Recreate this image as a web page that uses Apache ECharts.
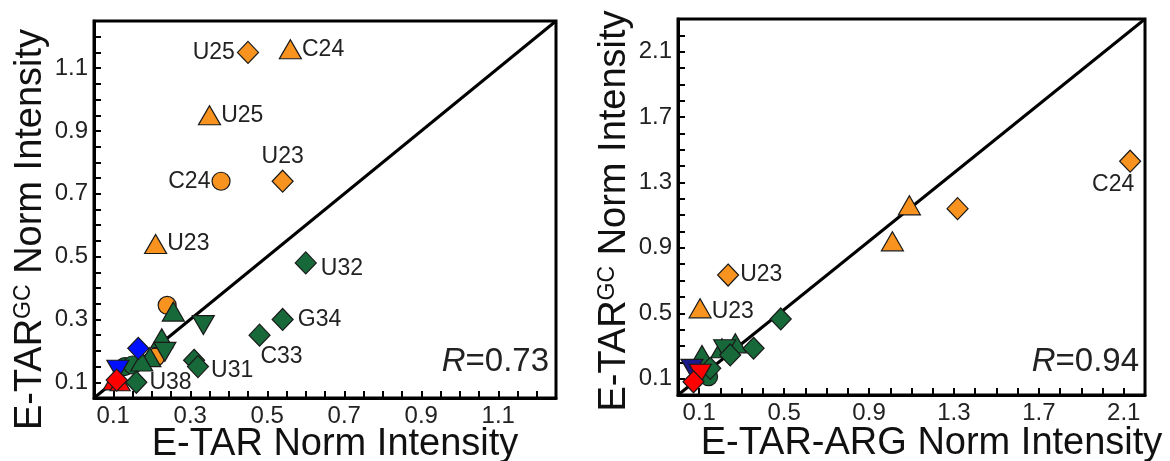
<!DOCTYPE html>
<html><head><meta charset="utf-8">
<script src="https://cdn.jsdelivr.net/npm/echarts@6/dist/echarts.min.js"></script>
<style>html,body{margin:0;padding:0;background:#fff}#c{width:1170px;height:461px}</style>
</head><body><div id="c"></div>
<script>
// ---------- Left panel: E-TAR (x) vs E-TAR^GC (y) ----------
const leftRange = [0.05, 1.25];
const leftLabelTicks = [0.1, 0.3, 0.5, 0.7, 0.9, 1.1];
const leftMinorTicks = [0.1,0.15,0.2,0.25,0.3,0.35,0.4,0.45,0.5,0.55,0.6,0.65,0.7,0.75,0.8,0.85,0.9,0.95,1.0,1.05,1.1,1.15,1.2];
const leftDiag = [[0.05, 0.05], [1.25, 1.25]];
const leftRText = '0.73';

const L_orangeDiamond = [[0.45, 1.15], [0.54, 0.74]];
const L_orangeDiamondLbl = ['U25', 'U23'];
const L_orangeTriangle = [[0.56, 1.16], [0.35, 0.95], [0.21, 0.54]];
const L_orangeTriangleLbl = ['C24', 'U25', 'U23'];
const L_orangeCircle = [[0.38, 0.74], [0.24, 0.345], [0.21, 0.18]];
const L_orangeCircleLbl = ['C24', '', ''];
const L_greenDiamond = [[0.60, 0.48], [0.54, 0.30], [0.48, 0.25], [0.31, 0.17], [0.32, 0.15], [0.16, 0.10]];
const L_greenDiamondLbl = ['U32', 'G34', 'C33', '', 'U31', 'U38'];
const L_greenTriangle = [[0.256, 0.325], [0.226, 0.24], [0.195, 0.18], [0.174, 0.166]];
const L_greenTriDown = [[0.334, 0.282], [0.234, 0.197]];
const L_greenCircle = [[0.13, 0.15], [0.15, 0.155]];
const L_blueDiamond = [[0.165, 0.208]];
const L_blueTriDown = [[0.112, 0.14]];
const L_redTriangle = [[0.1, 0.103], [0.118, 0.1]];
const L_redDiamond = [[0.109, 0.107]];

// ---------- Right panel: E-TAR-ARG (x) vs E-TAR^GC (y) ----------
const rightXRange = [0, 2.2];
const rightYRange = [0, 2.3];
const rightLabelTicks = [0.1, 0.5, 0.9, 1.3, 1.7, 2.1];
const rightMinorTicks = [0.1,0.2,0.3,0.4,0.5,0.6,0.7,0.8,0.9,1.0,1.1,1.2,1.3,1.4,1.5,1.6,1.7,1.8,1.9,2.0,2.1,2.2];
const rightDiag = [[0, 0], [2.2, 2.3]];
const rightRText = '0.94';

const R_orangeDiamond = [[2.13, 1.43], [1.317, 1.14], [0.236, 0.734]];
const R_orangeDiamondLbl = ['C24', '', 'U23'];
const R_orangeTriangle = [[1.09, 1.16], [1.01, 0.94], [0.104, 0.53]];
const R_orangeTriangleLbl = ['', '', 'U23'];
const R_greenDiamond = [[0.484, 0.465], [0.356, 0.286], [0.246, 0.245], [0.152, 0.163]];
const R_greenTriangle = [[0.27, 0.316], [0.207, 0.286], [0.113, 0.245]];
const R_greenTriDown = [[0.22, 0.28]];
const R_greenCircle = [[0.144, 0.112]];
const R_blueTriDown = [[0.066, 0.16]];
const R_redTriDown = [[0.105, 0.13]];
const R_redDiamond = [[0.073, 0.081]];

// ---------- styling ----------
const FONT = 'Liberation Sans, Arial, sans-serif';
const ORANGE = '#F7931E', GREEN = '#17693A', BLUE = '#0010FF', RED = '#FF0000';
const DIAM = [21, 22], TRI = [22, 19], CIRC = 18;
const TITLE_SIZE = 38;

// label placement per labelled point (layout, kept separate from data)
const LP = {
  L_oD: [{position: 'left', distance: 2}, {position: 'top', distance: 1}],
  L_oT: [{position: 'right', distance: 0}, {position: 'right', distance: 0}, {position: 'right', distance: 0}],
  L_oC: [{position: 'left', distance: 1}],
  L_gD: [{position: 'right', distance: 4, offset: [0, 6]}, {position: 'right', distance: 4}, {position: 'bottom', distance: 0, offset: [22, -2]}, null, {position: 'right', distance: 2, offset: [0, 4]}, {position: 'right', distance: 2}],
  R_oD: [{position: 'bottom', distance: 2, offset: [-17, -2]}, null, {position: 'right', distance: 1}],
  R_oT: [null, null, {position: 'right', distance: 0, offset: [0, 3]}]
};

function sc(grid, data, labels, symbol, color, size, rotate, layout) {
  return {
    type: 'scatter', xAxisIndex: grid, yAxisIndex: grid,
    symbol: symbol, symbolSize: size, symbolRotate: rotate || 0,
    itemStyle: {color: color, borderColor: '#1a1a1a', borderWidth: 1.2, opacity: 1},
    emphasis: {disabled: true}, silent: true, animation: false,
    label: {show: false, formatter: '{b}', fontSize: 23, color: '#222', fontFamily: FONT},
    data: data.map(function (d, i) {
      const item = {value: d, name: labels ? labels[i] : ''};
      if (labels && labels[i] && layout && layout[i]) item.label = Object.assign({show: true}, layout[i]);
      return item;
    })
  };
}

function diag(grid, data) {
  return {type: 'line', xAxisIndex: grid, yAxisIndex: grid, data: data, symbol: 'none',
    lineStyle: {color: '#000', width: 3}, silent: true, animation: false, z: 1};
}

function axis(pos, range, labelTicks, minorTicks, name, nameGap, namePad, grid) {
  return {
    type: 'value', gridIndex: grid, position: pos, min: range[0], max: range[1],
    name: name, nameLocation: 'middle', nameGap: nameGap, nameMoveOverlap: false,
    nameTextStyle: {fontSize: TITLE_SIZE, color: '#111', fontFamily: FONT, padding: namePad,
      rich: {m: {fontSize: TITLE_SIZE, color: '#111', fontFamily: FONT},
             s: {fontSize: 23, color: '#111', fontFamily: FONT, verticalAlign: 'top'}}},
    axisLine: {show: true, onZero: false, lineStyle: {color: '#000', width: 3}},
    axisTick: {show: true, inside: true, length: 7, customValues: minorTicks, lineStyle: {color: '#000', width: 2}},
    axisLabel: {show: true, customValues: labelTicks, fontSize: 24, color: '#222', fontFamily: FONT, margin: 6,
      formatter: function (v) { return v.toFixed(1); }},
    splitLine: {show: false}
  };
}

const chart = echarts.init(document.getElementById('c'), null, {renderer: 'canvas'});
chart.setOption({
  backgroundColor: '#fff',
  animation: false,
  grid: [
    {left: 94, top: 21, width: 462, height: 377, show: true, borderColor: '#000', borderWidth: 3, outerBoundsMode: 'none', containLabel: false},
    {left: 678, top: 19, width: 467, height: 376, show: true, borderColor: '#000', borderWidth: 3, outerBoundsMode: 'none', containLabel: false}
  ],
  xAxis: [
    axis('bottom', leftRange, leftLabelTicks, leftMinorTicks, 'E-TAR Norm Intensity', 28, [0, 0, 0, 20], 0),
    axis('bottom', rightXRange, rightLabelTicks, rightMinorTicks, 'E-TAR-ARG Norm Intensity', 30, [0, 0, 0, 40], 1)
  ],
  yAxis: [
    axis('left', leftRange, leftLabelTicks, leftMinorTicks, '{m|E-TAR}{s|GC}{m| Norm Intensity}', 44, [0, 40, 0, 0], 0),
    axis('left', rightYRange, rightLabelTicks, rightMinorTicks, '{m|E-TAR}{s|GC}{m| Norm Intensity}', 44, [0, 8, 0, 0], 1)
  ],
  graphic: [
    {type: 'text', right: 1170 - 549, top: 345, style: {text: '{i|R}{n|=' + leftRText + '}',
      rich: {i: {fontSize: 33, fontStyle: 'italic', fontFamily: FONT, fill: '#222'}, n: {fontSize: 33, fontFamily: FONT, fill: '#222'}}}},
    {type: 'text', right: 1170 - 1139, top: 345, style: {text: '{i|R}{n|=' + rightRText + '}',
      rich: {i: {fontSize: 33, fontStyle: 'italic', fontFamily: FONT, fill: '#222'}, n: {fontSize: 33, fontFamily: FONT, fill: '#222'}}}}
  ],
  series: [
    diag(0, leftDiag),
    sc(0, L_orangeCircle, L_orangeCircleLbl, 'circle', ORANGE, CIRC, 0, LP.L_oC),
    sc(0, L_greenCircle, null, 'circle', GREEN, CIRC),
    sc(0, L_greenTriangle, null, 'triangle', GREEN, TRI),
    sc(0, L_greenTriDown, null, 'triangle', GREEN, TRI, 180),
    sc(0, L_greenDiamond, L_greenDiamondLbl, 'diamond', GREEN, DIAM, 0, LP.L_gD),
    sc(0, L_orangeTriangle, L_orangeTriangleLbl, 'triangle', ORANGE, TRI, 0, LP.L_oT),
    sc(0, L_orangeDiamond, L_orangeDiamondLbl, 'diamond', ORANGE, DIAM, 0, LP.L_oD),
    sc(0, L_blueTriDown, null, 'triangle', BLUE, TRI, 180),
    sc(0, L_blueDiamond, null, 'diamond', BLUE, DIAM),
    sc(0, L_redTriangle, null, 'triangle', RED, [20, 17]),
    sc(0, L_redDiamond, null, 'diamond', RED, DIAM),

    diag(1, rightDiag),
    sc(1, R_greenCircle, null, 'circle', GREEN, CIRC),
    sc(1, R_greenTriangle, null, 'triangle', GREEN, TRI),
    sc(1, R_greenTriDown, null, 'triangle', GREEN, TRI, 180),
    sc(1, R_greenDiamond, null, 'diamond', GREEN, DIAM),
    sc(1, R_orangeTriangle, R_orangeTriangleLbl, 'triangle', ORANGE, TRI, 0, LP.R_oT),
    sc(1, R_orangeDiamond, R_orangeDiamondLbl, 'diamond', ORANGE, DIAM, 0, LP.R_oD),
    sc(1, R_blueTriDown, null, 'triangle', '#1a1a8a', TRI, 180),
    sc(1, R_redTriDown, null, 'triangle', RED, TRI, 180),
    sc(1, R_redDiamond, null, 'diamond', RED, DIAM)
  ]
});
</script>
</body></html>
